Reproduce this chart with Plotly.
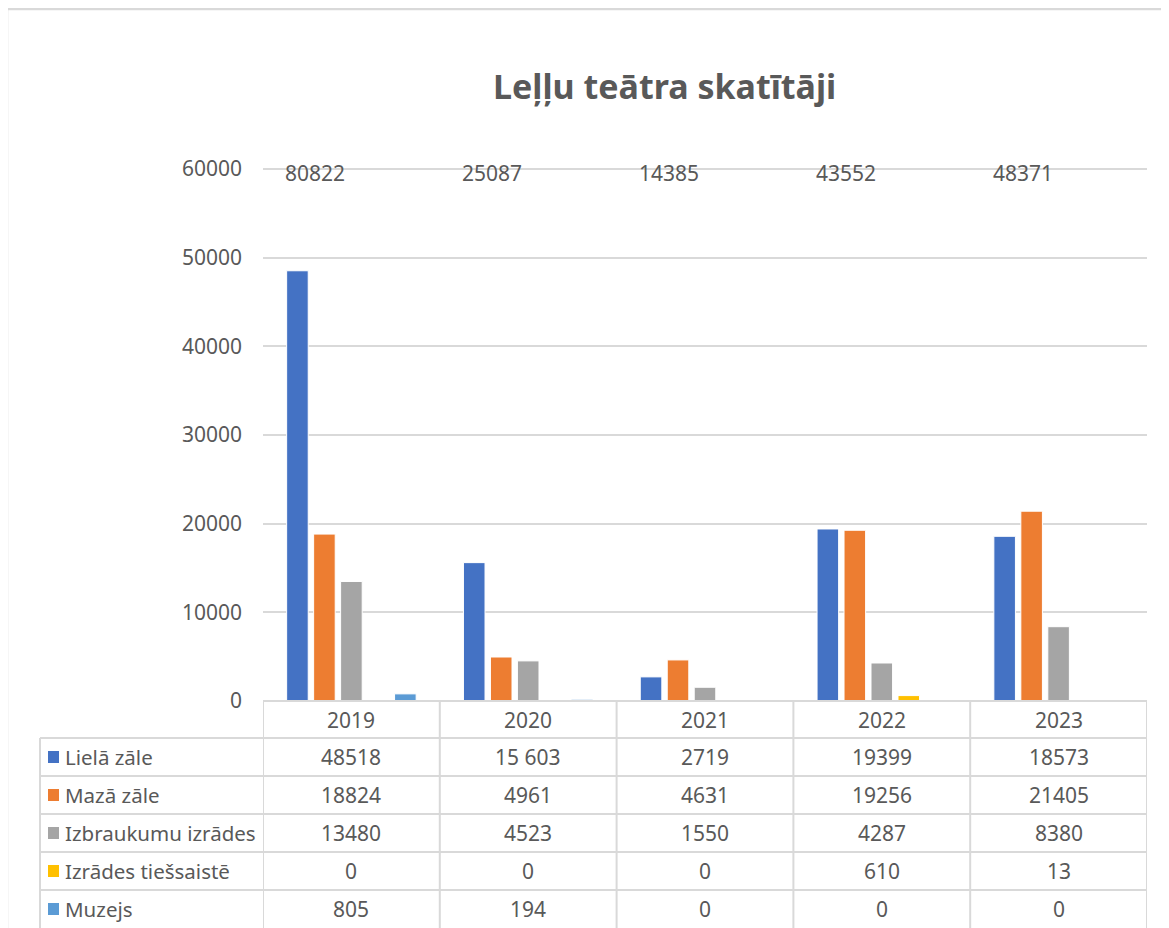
import plotly.graph_objects as go

years = ["2019", "2020", "2021", "2022", "2023"]
series_names = ["Lielā zāle", "Mazā zāle", "Izbraukumu izrādes", "Izrādes tiešsaistē", "Muzejs"]
liela_zale = [48518, 15603, 2719, 19399, 18573]
maza_zale = [18824, 4961, 4631, 19256, 21405]
izbraukumu = [13480, 4523, 1550, 4287, 8380]
tiessaiste = [0, 0, 0, 610, 13]
muzejs = [805, 194, 0, 0, 0]
totals = [80822, 25087, 14385, 43552, 48371]
liela_zale_labels = ["48518", "15 603", "2719", "19399", "18573"]
y_ticks = [0, 10000, 20000, 30000, 40000, 50000, 60000]
colors = ["#4472C4", "#ED7D31", "#A5A5A5", "#FFC000", "#5B9BD5"]
title_text = "Leļļu teātra skatītāji"

series_values = [liela_zale, maza_zale, izbraukumu, tiessaiste, muzejs]

OFF = 8  # page body margin
W, H = 1169 - OFF, 928 - OFF
L, R, T, B = 263 - OFF, 22, 167 - OFF, 227
PW = W - L - R
PH = H - T - B
FONT = "Noto Sans"
TXT = "#595959"
GRID = "#D9D9D9"


def px(xpix):
    return (xpix - OFF - L) / PW


def py(ypix):
    return (H - B - (ypix - OFF)) / PH


fig = go.Figure()
for name, vals, col in zip(series_names, series_values, colors):
    fig.add_trace(go.Bar(x=years, y=vals, name=name,
                         marker=dict(color=col, line=dict(color="white", width=1))))

shapes = []
annotations = []

# outer frame
shapes.append(dict(type="rect", xref="paper", yref="paper",
                   x0=px(7), x1=px(1200), y0=py(980), y1=py(9),
                   line=dict(color=GRID, width=2.5), fillcolor="rgba(0,0,0,0)", layer="below"))

# data table grid
row_lines = [738, 776, 814, 852, 890]
shapes.append(dict(type="line", xref="paper", yref="paper", x0=0, x1=1,
                   y0=0, y1=0, line=dict(color=GRID, width=2)))
for yl in row_lines:
    shapes.append(dict(type="line", xref="paper", yref="paper", x0=px(40), x1=1,
                       y0=py(yl), y1=py(yl), line=dict(color=GRID, width=2)))
shapes.append(dict(type="line", xref="paper", yref="paper", x0=px(40), x1=px(40),
                   y0=py(738), y1=py(960), line=dict(color=GRID, width=2)))
for i in range(len(years) + 1):
    shapes.append(dict(type="line", xref="x", yref="paper", x0=i - 0.5, x1=i - 0.5,
                       y0=0, y1=py(960), line=dict(color=GRID, width=2)))

# header (years)
for i, yv in enumerate(years):
    annotations.append(dict(x=i, y=py(719.5), xref="x", yref="paper", text=yv,
                            xanchor="center", yanchor="middle",
                            showarrow=False, font=dict(family=FONT, size=21, color=TXT)))

# table rows
row_centers = [757, 795, 833, 871, 909]
for r, (name, vals, col, yc) in enumerate(zip(series_names, series_values, colors, row_centers)):
    shapes.append(dict(type="rect", xref="paper", yref="paper",
                       x0=px(48), x1=px(59), y0=py(yc + 6), y1=py(yc - 6),
                       fillcolor=col, line=dict(width=0)))
    annotations.append(dict(x=px(63), y=py(yc), xref="paper", yref="paper", text=name,
                            xanchor="left", yanchor="middle", showarrow=False,
                            font=dict(family=FONT, size=20.5, color=TXT)))
    labels = liela_zale_labels if r == 0 else [str(v) for v in vals]
    for i, lab in enumerate(labels):
        annotations.append(dict(x=i, y=py(yc), xref="x", yref="paper", text=lab,
                                xanchor="center", yanchor="middle",
                                showarrow=False, font=dict(family=FONT, size=21, color=TXT)))

# totals
for i, tot in enumerate(totals):
    annotations.append(dict(x=i, y=y_ticks[-1], xref="x", yref="y", text=str(tot),
                            xanchor="center", yanchor="middle",
                            xshift=-36, yshift=-4, showarrow=False,
                            font=dict(family=FONT, size=21, color=TXT)))

# title
annotations.append(dict(x=px(664), y=py(86), xref="paper", yref="paper",
                        text="<b>" + title_text + "</b>",
                        xanchor="center", yanchor="middle",
                        showarrow=False, font=dict(family=FONT, size=34, color=TXT)))

fig.update_layout(
    width=W, height=H,
    margin=dict(l=L, r=R, t=T, b=B),
    paper_bgcolor="white", plot_bgcolor="white",
    barmode="group", bargap=0.237, bargroupgap=0.2,
    showlegend=False,
    shapes=shapes, annotations=annotations,
    font=dict(family=FONT, color=TXT),
)
fig.update_xaxes(type="category", range=[-0.5, 4.5], showticklabels=False, showgrid=False,
                 zeroline=False, showline=False, fixedrange=True)
fig.update_yaxes(range=[0, 60220], tickvals=y_ticks,
                 tickformat="d", showgrid=True,
                 gridcolor=GRID, gridwidth=2, zeroline=False, showline=False,
                 ticks="", ticklabelstandoff=20,
                 tickfont=dict(family=FONT, size=21, color=TXT))

fig.write_html("out.html")
